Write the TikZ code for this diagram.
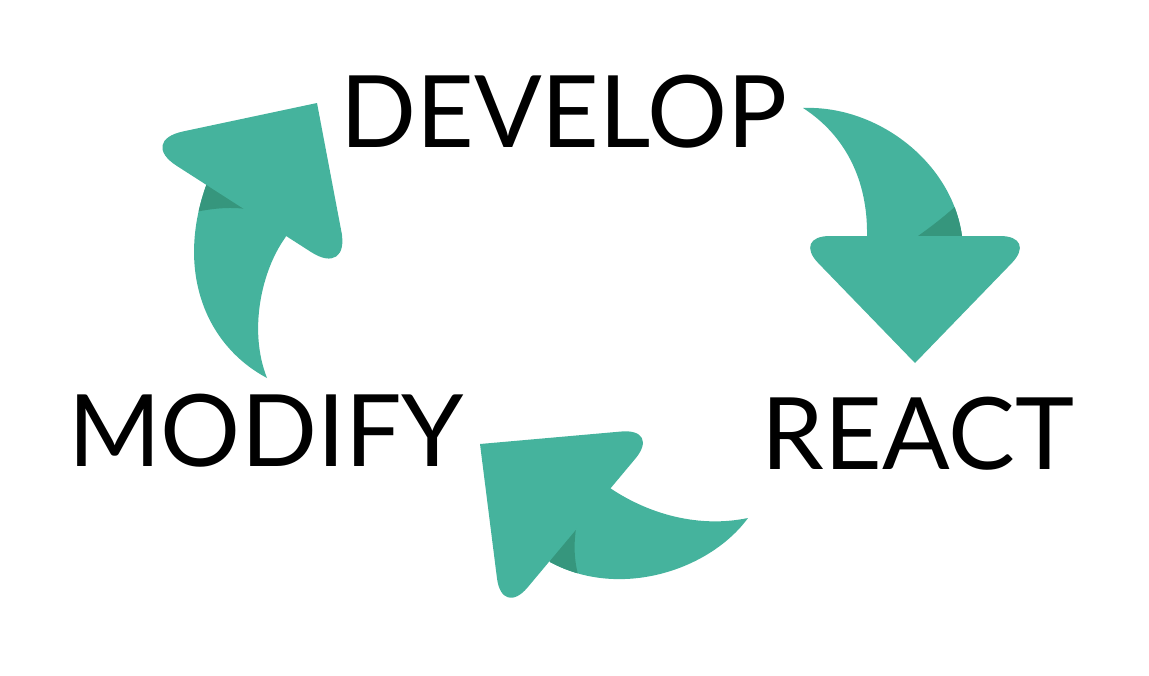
\documentclass[tikz,border=0pt]{standalone}
\usepackage{fontspec}
\setmainfont{Lato}
\usetikzlibrary{calc}
\definecolor{tealA}{RGB}{69,179,157}
\definecolor{tealB}{RGB}{54,150,125}
\begin{document}
\begin{tikzpicture}[x=1pt,y=-1pt,
  lbl/.style={inner sep=0pt, anchor=base, font=\fontsize{100}{100}\selectfont},
  body/.style={fill=tealA},
  shade/.style={fill=tealB}]
\useasboundingbox (0,0) rectangle (1149,675);
% ---------- arrow 1 : DEVELOP -> REACT
\fill[body] (803,108) .. controls (877,105) and (952,162) .. (962,236) -- (962,246) -- (867,246) -- (867,236) .. controls (868,180) and (845,135) .. (803,108) -- cycle;
\begin{scope}
\clip (803,108) .. controls (877,105) and (952,162) .. (962,236) -- (962,246) -- (867,246) -- (867,236) .. controls (868,180) and (845,135) .. (803,108) -- cycle;
\fill[shade] (918,236) .. controls (932,226) and (945,216) .. (958,204) -- (980,185) -- (980,250) -- (910,250) -- cycle;
\end{scope}
\coordinate (h1a) at (915,363);
\coordinate (h1l) at (792,236);
\coordinate (h1r) at (1038,236);
\fill[body] ($(h1a)!0.5!(h1l)$) [rounded corners=38pt] -- (h1l) -- (h1r) -- ($(h1r)!0.5!(h1a)$) [sharp corners] -- (h1a) -- cycle;
% ---------- arrow 2 : MODIFY -> DEVELOP
\fill[body] (267,378) .. controls (205,345) and (175,270) .. (207,183) -- (218,160) -- (305,200) -- (285,238) .. controls (262,270) and (248,330) .. (267,378) -- cycle;
\begin{scope}
\clip (267,378) .. controls (205,345) and (175,270) .. (207,183) -- (218,160) -- (305,200) -- (285,238) .. controls (262,270) and (248,330) .. (267,378) -- cycle;
\fill[shade] (180,216) .. controls (200,210) and (225,206) .. (246,209) -- (250,140) -- (170,140) -- cycle;
\end{scope}
\coordinate (h2t) at (317,103);
\coordinate (h2l) at (138,141);
\coordinate (h2b) at (350,277);
\fill[body] ($(h2t)!0.5!(h2l)$) [rounded corners=46pt] -- (h2l) -- (h2b) -- ($(h2b)!0.5!(h2t)$) [sharp corners] -- (h2t) -- cycle;
% ---------- arrow 3 : REACT -> MODIFY
\fill[body] (748,518) .. controls (710,570) and (620,600) .. (550,562) -- (540,540) -- (600,478) -- (610,488) .. controls (650,515) and (700,528) .. (748,518) -- cycle;
\begin{scope}
\clip (748,518) .. controls (710,570) and (620,600) .. (550,562) -- (540,540) -- (600,478) -- (610,488) .. controls (650,515) and (700,528) .. (748,518) -- cycle;
\fill[shade] (577,522) .. controls (573,545) and (574,562) .. (580,582) -- (530,600) -- (530,520) -- cycle;
\end{scope}
\coordinate (h3t) at (480,444);
\coordinate (h3r) at (661,428);
\coordinate (h3b) at (502,618);
\fill[body] ($(h3t)!0.5!(h3r)$) [rounded corners=40pt] -- (h3r) -- (h3b) -- ($(h3b)!0.5!(h3t)$) [sharp corners] -- (h3t) -- cycle;
% ---------- labels
\node[lbl] (develop) at (564,147) {DEVELOP};
\node[lbl] (modify) at (266,466) {MODIFY};
\node[lbl] (react) at (918,469) {REACT};
\end{tikzpicture}
\end{document}
